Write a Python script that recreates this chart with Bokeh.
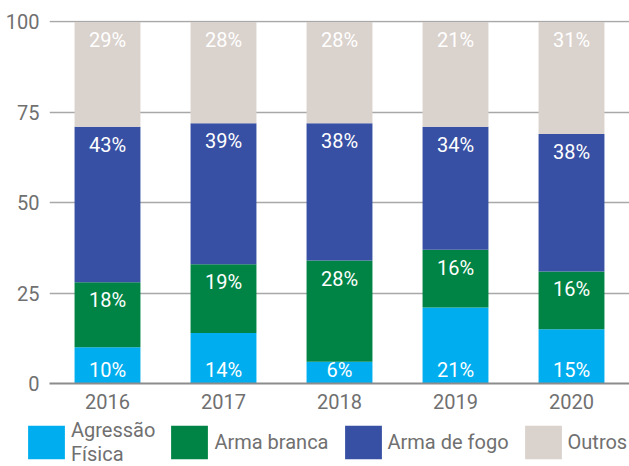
from bokeh.plotting import figure
from bokeh.layouts import column, row
from bokeh.models import Range1d, FixedTicker, Legend, LegendItem, ColumnDataSource
from bokeh.embed import file_html
from bokeh.resources import INLINE
from bokeh.core.properties import value

# ---- data ----
years = ["2016", "2017", "2018", "2019", "2020"]
agressao = [10, 14, 6, 21, 15]
arma_branca = [18, 19, 28, 16, 16]
arma_fogo = [43, 39, 38, 34, 38]
outros = [29, 28, 28, 29, 31]
outros_labels = ["29%", "28%", "28%", "21%", "31%"]
series_names = ["Agressão\nFísica", "Arma branca", "Arma de fogo", "Outros"]
y_ticks = [0, 25, 50, 75, 100]

FONT = "Roboto"
colors = ["#00AEEF", "#008445", "#3750A3", "#DAD2CD"]
keys = ["agressao", "branca", "fogo", "outros"]

src = ColumnDataSource(dict(years=years, agressao=agressao, branca=arma_branca,
                            fogo=arma_fogo, outros=outros))

# ---- main chart ----
p = figure(x_range=years, y_range=Range1d(0, 100.4), width=629, height=418,
           output_backend="svg", toolbar_location=None, title=None,
           min_border_left=49, min_border_right=0, min_border_top=20,
           min_border_bottom=35)
p.outline_line_color = None

p.vbar_stack(keys, x="years", width=0.568, source=src, color=colors, line_color=None)

def cum(*arrs):
    return [sum(v) for v in zip(*arrs)]

off = 5.0
lab_x, lab_y, lab_t = [], [], []
for i, y in enumerate(years):
    lab_x.append(y); lab_y.append(3.6); lab_t.append(f"{agressao[i]}%")
c1 = cum(agressao, arma_branca)
c2 = cum(agressao, arma_branca, arma_fogo)
c3 = cum(agressao, arma_branca, arma_fogo, outros)
for i, y in enumerate(years):
    lab_x.append(y); lab_y.append(c1[i] - off); lab_t.append(f"{arma_branca[i]}%")
    lab_x.append(y); lab_y.append(c2[i] - off); lab_t.append(f"{arma_fogo[i]}%")
    lab_x.append(y); lab_y.append(c3[i] - off); lab_t.append(outros_labels[i])

p.text(x=lab_x, y=lab_y, text=lab_t, text_align="center", text_baseline="middle",
       text_color="white", text_font=value(FONT), text_font_size="20px")

p.yaxis.ticker = FixedTicker(ticks=y_ticks)
p.yaxis.axis_line_color = None
p.yaxis.major_tick_line_color = None
p.yaxis.minor_tick_line_color = None
p.yaxis.major_tick_out = 0
p.yaxis.major_tick_in = 0
p.yaxis.major_label_standoff = 10
p.xaxis.major_tick_line_color = None
p.xaxis.minor_tick_line_color = None
p.xaxis.major_tick_out = 0
p.xaxis.major_tick_in = 0
p.xaxis.axis_line_color = "#8c8c8c"
p.xaxis.axis_line_width = 2
p.xaxis.major_label_standoff = 10
for ax in (p.xaxis, p.yaxis):
    ax.major_label_text_font = FONT
    ax.major_label_text_font_size = "20px"
    ax.major_label_text_color = "#707070"
p.xgrid.grid_line_color = None
p.ygrid.grid_line_color = "#a8a8a8"
p.ygrid.grid_line_width = 1.5
p.ygrid.ticker = FixedTicker(ticks=y_ticks)

# ---- legend strip (same series, bars kept out of view) ----
lf = figure(x_range=years, y_range=Range1d(1000, 1001), width=629, height=48,
            output_backend="svg", toolbar_location=None, title=None,
            x_axis_location=None, y_axis_location=None,
            min_border_left=0, min_border_right=0, min_border_top=0, min_border_bottom=0)
lf.outline_line_color = None
lf.grid.visible = False
lrs = lf.vbar_stack(keys, x="years", width=0.568, source=src, color=colors, line_color=None)

legend = Legend(items=[LegendItem(label=n, renderers=[r]) for n, r in zip(series_names, lrs)],
                orientation="horizontal", location=(23, 0))
legend.padding = 0
legend.margin = 0
legend.border_line_color = None
legend.background_fill_alpha = 0
legend.glyph_width = 46
legend.glyph_height = 42
legend.label_standoff = 2
legend.spacing = 11
legend.label_text_font = FONT
legend.label_text_font_size = "20px"
legend.label_text_color = "#707070"
legend.label_text_line_height = 1.0
legend.label_height = 42
lf.add_layout(legend, "center")

layout = column(p, row(lf), spacing=0)
open("out.html", "w").write(file_html(layout, INLINE))
